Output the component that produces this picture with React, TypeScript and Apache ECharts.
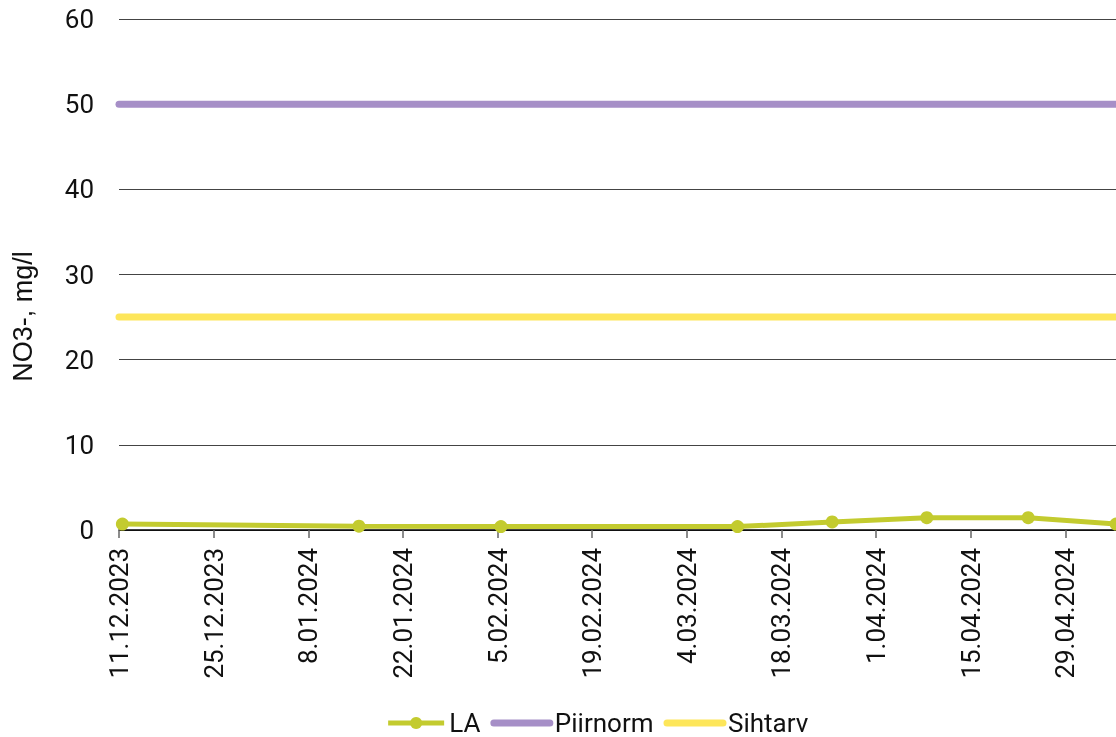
import React, { useEffect, useRef } from "react";
import * as echarts from "echarts";

const START = Date.UTC(2023, 11, 11);
const DAY = 86400000;

const laDates = ["2023-12-11", "2024-01-15", "2024-02-05", "2024-03-11", "2024-03-25", "2024-04-08", "2024-04-23", "2024-05-06"];
const laValues = [0.7, 0.45, 0.4, 0.4, 0.95, 1.45, 1.45, 0.7];
const piirnormValue = 50;
const sihtarvValue = 25;
const seriesNames = ["LA", "Piirnorm", "Sihtarv"];
const axisEndDays = 154;

function dayOffset(d: string): number {
  const [y, m, dd] = d.split("-").map(Number);
  return (Date.UTC(y, m - 1, dd) - START) / DAY + 0.5;
}

function fmt(days: number): string {
  const dt = new Date(START + days * DAY);
  const d = dt.getUTCDate();
  const m = dt.getUTCMonth() + 1;
  return `${d}.${m < 10 ? "0" + m : m}.${dt.getUTCFullYear()}`;
}

export default function App() {
  const ref = useRef<HTMLDivElement>(null);
  useEffect(() => {
    if (!ref.current) return;
    const chart = echarts.init(ref.current, undefined, { renderer: "svg" });
    const font = "Roboto";
    chart.setOption({
      animation: false,
      textStyle: { fontFamily: font },
      grid: { left: 111, right: 26, top: 11, bottom: 238, containLabel: false, outerBoundsMode: "none" },
      legend: {
        data: [
          { name: seriesNames[0], lineStyle: { width: 5 } },
          { name: seriesNames[1], lineStyle: { width: 7, cap: "round" }, itemStyle: { opacity: 0 } },
          { name: seriesNames[2], lineStyle: { width: 7, cap: "round" }, itemStyle: { opacity: 0 } },
        ],
        top: 697,
        left: "center",
        itemWidth: 56,
        itemHeight: 15,
        itemGap: 10,
        textStyle: { fontFamily: font, fontSize: 26, color: "#111" },
      },
      xAxis: {
        type: "value",
        min: 0,
        max: axisEndDays,
        interval: 14,
        axisLine: { show: true, lineStyle: { color: "#000", width: 1.5 } },
        axisTick: { show: true, length: 8, lineStyle: { color: "#666", width: 1.5 } },
        splitLine: { show: false },
        axisLabel: {
          rotate: 90,
          margin: 18,
          fontSize: 26,
          fontFamily: font,
          color: "#111",
          showMaxLabel: false,
          formatter: (v: number) => fmt(v),
        },
      },
      yAxis: {
        type: "value",
        min: 0,
        max: 60,
        interval: 10,
        name: "NO3-, mg/l",
        nameLocation: "middle",
        nameGap: 83,
        nameTextStyle: { fontFamily: "Liberation Sans", fontSize: 27, color: "#111", padding: [0, 84, 0, 0] },
        axisLine: { show: false },
        axisTick: { show: false },
        axisLabel: { fontSize: 26, fontFamily: font, color: "#111", margin: 25 },
        splitLine: { show: true, lineStyle: { color: "#444", width: 1 } },
      },
      series: [
        {
          name: seriesNames[0],
          type: "line",
          data: laDates.map((d, i) => [dayOffset(d), laValues[i]]),
          symbol: "circle",
          symbolSize: 13,
          itemStyle: { color: "#c3cb2f" },
          lineStyle: { color: "#c3cb2f", width: 5 },
          z: 5,
        },
        {
          name: seriesNames[1],
          type: "line",
          data: [[0, piirnormValue], [axisEndDays, piirnormValue]],
          showSymbol: false,
          itemStyle: { color: "#a68fc7" },
          lineStyle: { color: "#a68fc7", width: 7, cap: "round" },
        },
        {
          name: seriesNames[2],
          type: "line",
          data: [[0, sihtarvValue], [axisEndDays, sihtarvValue]],
          showSymbol: false,
          itemStyle: { color: "#fde65a" },
          lineStyle: { color: "#fde65a", width: 7, cap: "round" },
        },
      ],
    });
    return () => chart.dispose();
  }, []);
  return (
    <div style={{ position: "fixed", left: 0, top: 0, width: 1116, height: 737, overflow: "hidden" }}>
      <div ref={ref} style={{ position: "absolute", left: 8, top: 8, width: 1178, height: 760 }} />
    </div>
  );
}
